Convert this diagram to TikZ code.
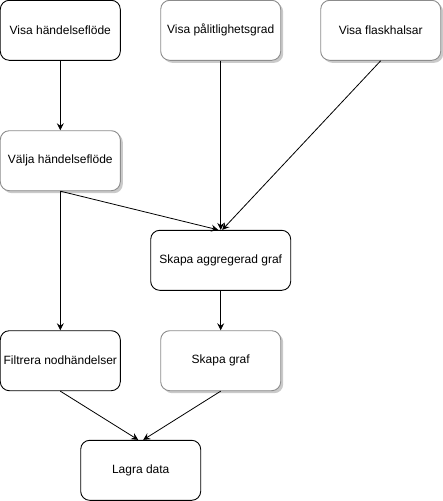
\documentclass[tikz,border=0pt]{standalone}
\usepackage{fontspec}
\setmainfont{Liberation Sans}
\usetikzlibrary{arrows.meta,shadows}
\begin{document}
\begin{tikzpicture}[x=1pt,y=-1pt,
  box/.style={draw=black, line width=0.9pt, rounded corners=9pt, fill=white,
    minimum width=120pt, minimum height=60pt, inner sep=1pt,
    font=\fontsize{12}{14}\selectfont, text=black},
  sbox/.style={box, draw=black!45, drop shadow={shadow xshift=2.5pt, shadow yshift=-2.5pt, fill=black!35, opacity=0.6}},
  arr/.style={-{Stealth[length=7pt,width=7pt,inset=2.5pt]}, line width=0.8pt}
]
\useasboundingbox (0,0) rectangle (443,501);
\node[box]  (n1) at (60.3,30.3)  {Visa händelseflöde};
\node[sbox] (n2) at (220.7,30.3) {Visa pålitlighetsgrad};
\node[sbox] (n3) at (380.7,30.3) {Visa flaskhalsar};
\node[sbox] (n4) at (60.3,160.7) {Välja händelseflöde};
\node[box, minimum width=140pt] (n5) at (220.7,260.3) {Skapa aggregerad graf};
\node[box]  (n6) at (60.3,360.7) {Filtrera nodhändelser};
\node[sbox] (n7) at (220.7,360.7) {Skapa graf};
\node[box]  (n8) at (140.7,470.3) {Lagra data};

\draw[arr] (n1.south) -- (n4.north);
\draw[arr] (n4.south) -- ([xshift=-2.5pt]n5.north);
\draw[arr] (n2.south) -- (n5.north);
\draw[arr] (n3.south) -- ([xshift=1.5pt]n5.north);
\draw[arr] (n4.south) -- (n6.north);
\draw[arr] (n5.south) -- (n7.north);
\draw[arr] (n6.south) -- ([xshift=-2.5pt]n8.north);
\draw[arr] (n7.south) -- ([xshift=2.5pt]n8.north);
\end{tikzpicture}
\end{document}
